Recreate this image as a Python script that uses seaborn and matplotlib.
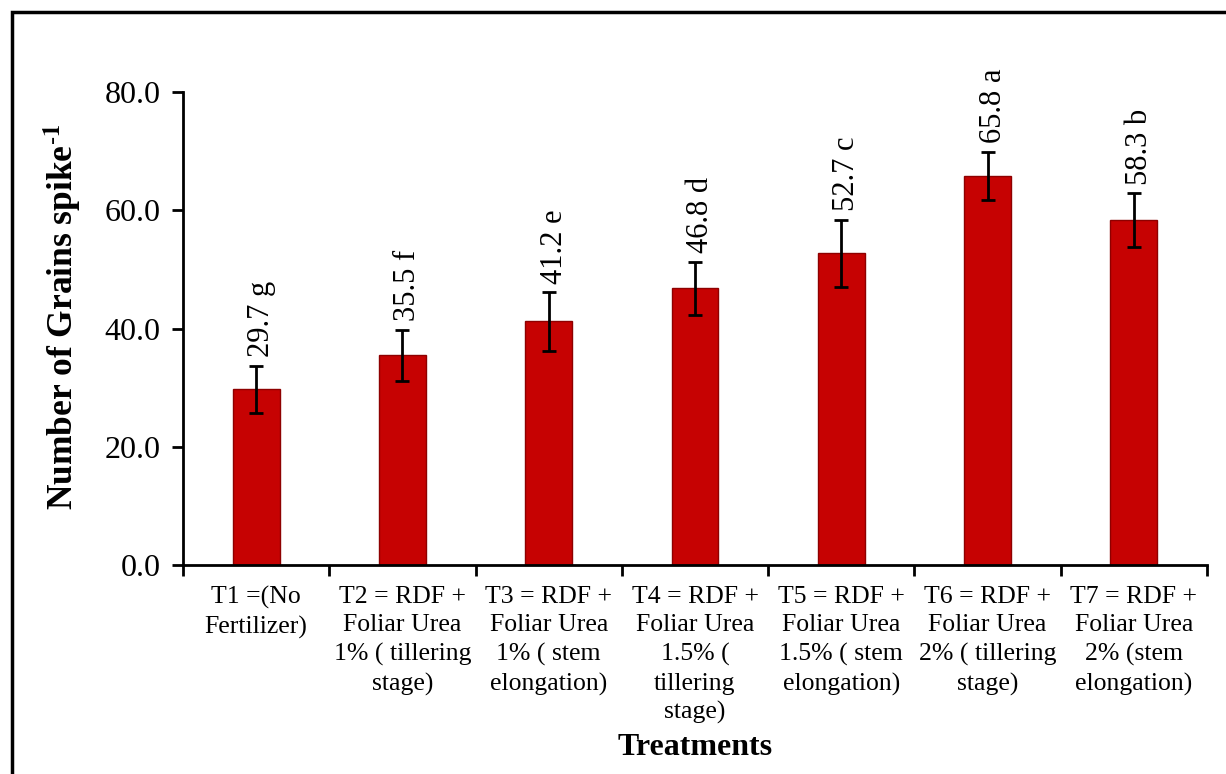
import matplotlib
matplotlib.use("Agg")
import matplotlib.pyplot as plt
import seaborn as sns
import pandas as pd
from matplotlib.patches import Rectangle

treatments = [
    "T1 =(No\nFertilizer)",
    "T2 = RDF +\nFoliar Urea\n1% ( tillering\nstage)",
    "T3 = RDF +\nFoliar Urea\n1% ( stem\nelongation)",
    "T4 = RDF +\nFoliar Urea\n1.5% (\ntillering\nstage)",
    "T5 = RDF +\nFoliar Urea\n1.5% ( stem\nelongation)",
    "T6 = RDF +\nFoliar Urea\n2% ( tillering\nstage)",
    "T7 = RDF +\nFoliar Urea\n2% (stem\nelongation)",
]
grains = [29.7, 35.5, 41.2, 46.8, 52.7, 65.8, 58.3]
errors = [4.0, 4.3, 5.0, 4.5, 5.7, 4.1, 4.6]
letters = ["g", "f", "e", "d", "c", "a", "b"]
yticks = [0, 20, 40, 60, 80]

sns.set_theme(style="white")
plt.rcParams["font.family"] = ["Liberation Serif", "DejaVu Serif"]
plt.rcParams["mathtext.fontset"] = "stix"
plt.rcParams["text.color"] = "black"
plt.rcParams["axes.labelcolor"] = "black"
plt.rcParams["xtick.color"] = "black"
plt.rcParams["ytick.color"] = "black"

df = pd.DataFrame({"Treatment": treatments, "Grains": grains})

fig = plt.figure(figsize=(12.26, 7.74), dpi=100)
ax = fig.add_axes([183 / 1226, 1 - 565 / 774, 1024 / 1226, 473 / 774])

sns.barplot(data=df, x="Treatment", y="Grains", color="#C60202",
            width=0.32, saturation=1, edgecolor="#8E0000", linewidth=1,
            errorbar=None, ax=ax)

xpos = list(range(len(grains)))
ax.errorbar(xpos, grains, yerr=errors, fmt="none", ecolor="black",
            elinewidth=2, capsize=5, capthick=2, zorder=5)

for x, v, e, l in zip(xpos, grains, errors, letters):
    ax.annotate(f"{v:.1f} {l}", xy=(x, v + e), xytext=(4, 6),
                textcoords="offset points", rotation=90,
                ha="center", va="bottom", fontsize=22, annotation_clip=False)

ax.set_ylim(0, 80)
ax.set_xlim(-0.5, len(grains) - 0.5)
ax.set_yticks(yticks)
ax.set_yticklabels([f"{t:.1f}" for t in yticks], fontsize=23)
ax.tick_params(axis="y", direction="out", length=8, width=2, left=True,
               pad=8)
ax.tick_params(axis="x", which="major", length=0, pad=15, labelsize=18.5)
ax.set_xticks([i - 0.5 for i in range(len(grains) + 1)], minor=True)
ax.tick_params(axis="x", which="minor", direction="out", length=8, width=2,
               bottom=True)
for lab in ax.get_xticklabels():
    lab.set_linespacing(1.38)

for s in ["top", "right"]:
    ax.spines[s].set_visible(False)
for s in ["left", "bottom"]:
    ax.spines[s].set_color("black")
    ax.spines[s].set_linewidth(2)

ax.set_ylabel(r"Number of Grains spike$^{\text{-}\mathbf{1}}$", fontsize=25.5,
              fontweight="bold")
ax.yaxis.set_label_coords(-0.098, 0.525)
ax.set_xlabel("Treatments", fontsize=23, fontweight="bold")
ax.xaxis.set_label_coords(0.5, -0.355)

fig.patches.append(Rectangle((12 / 1226, -0.05), 1.2, (1 - 12 / 774) + 0.05,
                             transform=fig.transFigure, fill=False,
                             edgecolor="black", linewidth=2.5))

fig.savefig("out.png", dpi=100, facecolor="white")
